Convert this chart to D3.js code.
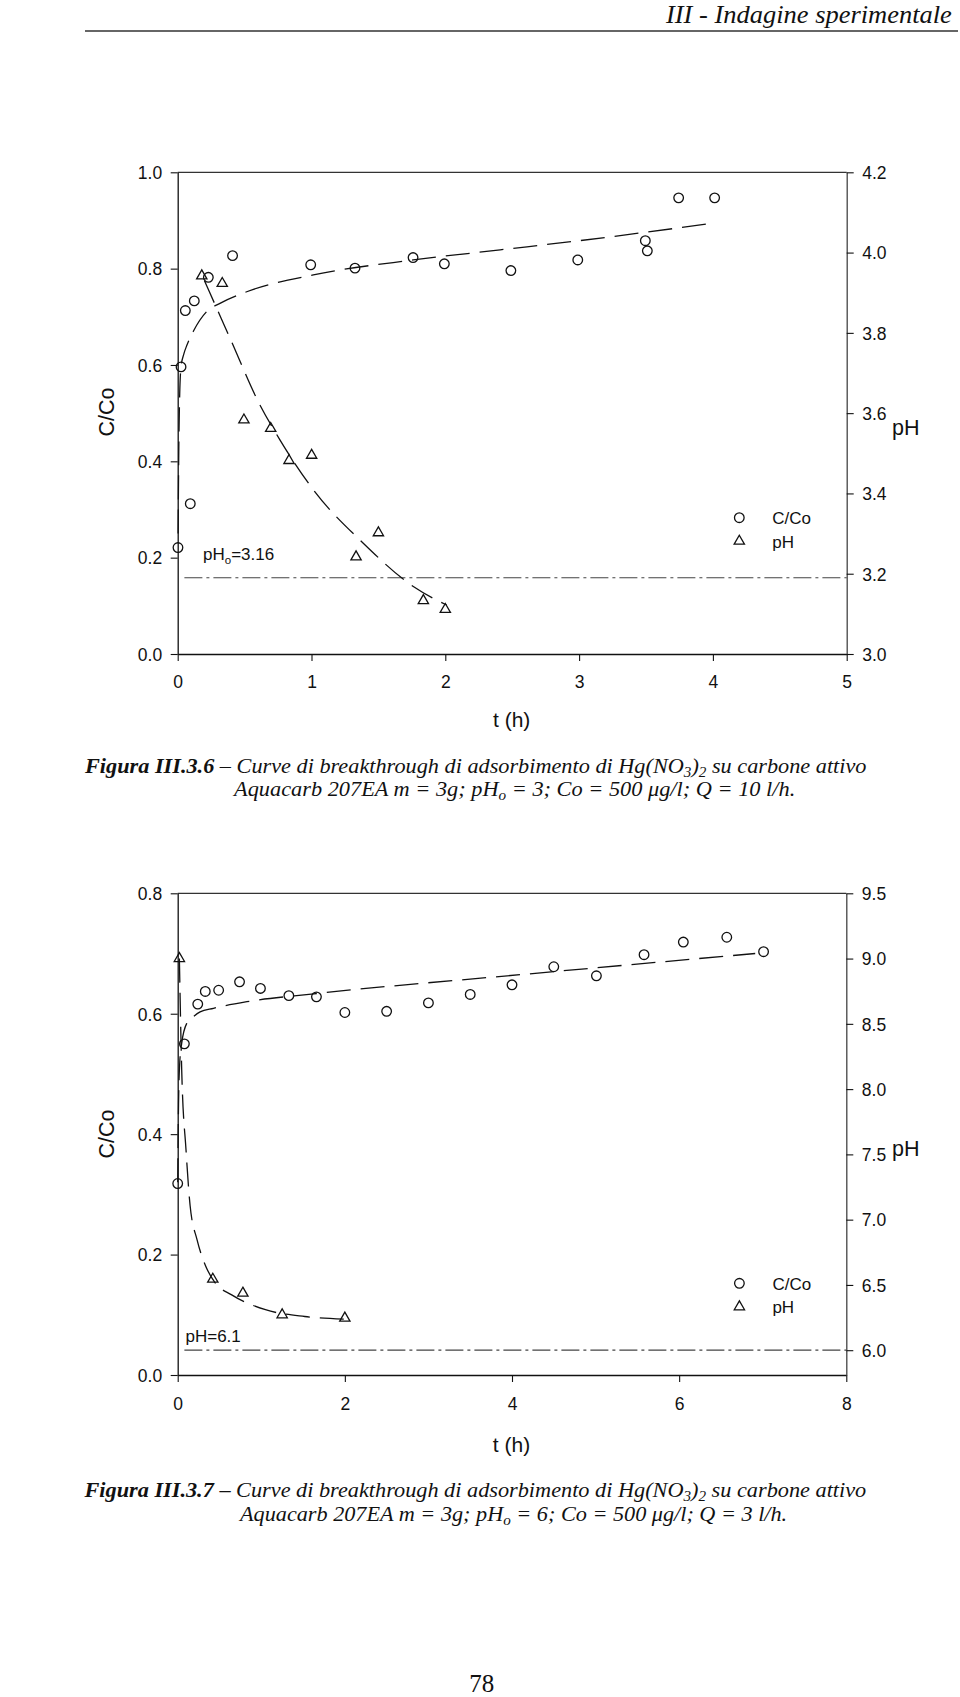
<!DOCTYPE html>
<html><head><meta charset="utf-8">
<script src="https://cdn.jsdelivr.net/npm/d3@7"></script>
<style>html,body{margin:0;padding:0;background:#fff;}svg{display:block;}</style>
</head><body>
<script>
// ---------- Figure III.3.6 data ----------
const fig1TimeC = [0.002, 0.025, 0.057, 0.094, 0.124, 0.229, 0.41, 0.994, 1.325, 1.759, 1.993, 2.49, 2.99, 3.495, 3.51, 3.744, 4.013];
const fig1CCo   = [0.221, 0.596, 0.713, 0.312, 0.733, 0.782, 0.827, 0.808, 0.801, 0.823, 0.810, 0.796, 0.818, 0.858, 0.837, 0.947, 0.947];
const fig1TimePH = [0.18, 0.333, 0.495, 0.695, 0.832, 1.001, 1.333, 1.5, 1.836, 2.0];
const fig1PH     = [3.942, 3.923, 3.583, 3.562, 3.482, 3.495, 3.242, 3.302, 3.133, 3.111];
const fig1FitCTime = [0.003, 0.008, 0.015, 0.025, 0.045, 0.07, 0.117, 0.217, 0.316, 0.516, 1.014, 1.76, 2.41, 3.0, 4.02];
const fig1FitC     = [0.25, 0.42, 0.54, 0.596, 0.622, 0.642, 0.670, 0.711, 0.728, 0.752, 0.787, 0.818, 0.839, 0.858, 0.895];
const fig1FitPHTime = [0.2, 0.236, 0.4, 0.6, 0.765, 1.014, 1.387, 1.761, 2.01];
const fig1FitPH     = [3.93, 3.903, 3.78, 3.63, 3.533, 3.409, 3.276, 3.168, 3.122];
const fig1RefPH = 3.19;
const fig1RefStart = 0.05;
const fig1RefLabel = ["pH", "o", "=3.16"];
const fig1XTicks = [0, 1, 2, 3, 4, 5];
const fig1LeftTicks = [0.0, 0.2, 0.4, 0.6, 0.8, 1.0];
const fig1RightTicks = [3.0, 3.2, 3.4, 3.6, 3.8, 4.0, 4.2];
const fig1XDomain = [0, 5], fig1LeftDomain = [0, 1], fig1RightDomain = [3.0, 4.2];

// ---------- Figure III.3.7 data ----------
const fig2TimeC = [0.0, 0.08, 0.24, 0.33, 0.49, 0.74, 0.99, 1.33, 1.66, 2.0, 2.5, 3.0, 3.5, 4.0, 4.5, 5.01, 5.58, 6.05, 6.57, 7.01];
const fig2CCo   = [0.318, 0.550, 0.616, 0.637, 0.639, 0.653, 0.642, 0.630, 0.628, 0.602, 0.604, 0.618, 0.632, 0.648, 0.678, 0.663, 0.698, 0.719, 0.727, 0.703];
const fig2TimePH = [0.02, 0.42, 0.78, 1.25, 2.0];
const fig2PH     = [9.0, 6.544, 6.437, 6.271, 6.246];
const fig2FitCTime = [0.0, 0.01, 0.025, 0.048, 0.108, 0.188, 0.268, 0.428, 0.828, 1.628, 4.11, 6.91];
const fig2FitC     = [0.32, 0.45, 0.52, 0.551, 0.584, 0.595, 0.603, 0.609, 0.62, 0.633, 0.665, 0.700];
const fig2FitPHTime = [0.02, 0.048, 0.10, 0.148, 0.232, 0.328, 0.448, 0.646, 1.05, 1.52, 2.0];
const fig2FitPH     = [9.0, 8.146, 7.53, 7.11, 6.845, 6.654, 6.516, 6.424, 6.31, 6.258, 6.238];
const fig2RefPH = 6.0;
const fig2RefStart = 0.08;
const fig2RefLabel = ["pH=6.1", "", ""];
const fig2XTicks = [0, 2, 4, 6, 8];
const fig2LeftTicks = [0.0, 0.2, 0.4, 0.6, 0.8];
const fig2RightTicks = [6.0, 6.5, 7.0, 7.5, 8.0, 8.5, 9.0, 9.5];
const fig2XDomain = [0, 8], fig2LeftDomain = [0, 0.8], fig2RightDomain = [5.81, 9.5];

const legendLabels = ["C/Co", "pH"];
const xTitle = "t (h)", leftTitle = "C/Co", rightTitle = "pH";

const W = 960, H = 1697;
const SANS = "Liberation Sans, Arial, sans-serif";
const SERIF = "Liberation Serif, Times New Roman, serif";
const INK = "#111";
const svg = d3.select("body").append("svg").attr("width", W).attr("height", H)
  .attr("font-family", SANS);

function drawChart(o) {
  const x = d3.scaleLinear().domain(o.xDomain).range([o.left, o.right]);
  const yL = d3.scaleLinear().domain(o.leftDomain).range([o.bottom, o.top]);
  const yR = d3.scaleLinear().domain(o.rightDomain).range([o.bottom, o.top]);
  const g = svg.append("g");

  g.append("line").attr("x1", o.left).attr("x2", o.right).attr("y1", o.top).attr("y2", o.top)
    .attr("stroke", "#333").attr("stroke-width", 1.2);

  const fmt1 = d3.format(".1f");
  const axB = g.append("g").attr("transform", `translate(0,${o.bottom})`)
    .call(d3.axisBottom(x).tickValues(o.xTicks).tickFormat(d3.format("d")).tickSize(7).tickSizeOuter(0));
  const axL = g.append("g").attr("transform", `translate(${o.left},0)`)
    .call(d3.axisLeft(yL).tickValues(o.leftTicks).tickFormat(fmt1).tickSize(7).tickSizeOuter(0));
  const axR = g.append("g").attr("transform", `translate(${o.right},0)`)
    .call(d3.axisRight(yR).tickValues(o.rightTicks).tickFormat(fmt1).tickSize(7).tickSizeOuter(0));
  [axB, axL, axR].forEach(a => {
    a.selectAll("path.domain").attr("stroke", INK).attr("stroke-width", 1.3);
    a.selectAll(".tick line").attr("stroke", INK).attr("stroke-width", 1.1);
    a.selectAll("text").attr("font-family", SANS).attr("font-size", 17.5).attr("fill", INK);
  });
  axR.selectAll("path.domain").attr("stroke", "#444");
  axB.selectAll("text").attr("dy", null).attr("y", o.xLabelBaseline - o.bottom);
  axL.selectAll("text").attr("x", -15.5).attr("dy", "0.36em");
  axR.selectAll("text").attr("x", 15.5).attr("dy", "0.36em");

  g.append("text").attr("x", (o.left + o.right) / 2 - 0.5).attr("y", o.xTitleY)
    .attr("text-anchor", "middle").attr("font-size", 21).attr("fill", INK).text(xTitle);
  g.append("text").attr("transform", `translate(${o.leftTitleX},${o.leftTitleY}) rotate(-90)`)
    .attr("text-anchor", "middle").attr("font-size", 21.5).attr("fill", INK).text(leftTitle);
  g.append("text").attr("x", o.rightTitleX).attr("y", o.rightTitleY)
    .attr("font-size", 21.5).attr("fill", INK).text(rightTitle);

  g.append("line").attr("x1", x(o.refStart)).attr("x2", o.right)
    .attr("y1", yR(o.refPH)).attr("y2", yR(o.refPH))
    .attr("stroke", "#444").attr("stroke-width", 1.2).attr("stroke-dasharray", "18,4,3,4");
  const rl = g.append("text").attr("x", o.refLabelX).attr("y", o.refLabelY)
    .attr("font-size", 17).attr("fill", INK);
  rl.append("tspan").text(o.refLabel[0]);
  if (o.refLabel[1]) {
    rl.append("tspan").attr("font-size", 11.5).attr("dy", 4).text(o.refLabel[1]);
    rl.append("tspan").attr("dy", -4).text(o.refLabel[2]);
  }

  const lineC = d3.line().x((d, i) => x(o.fitCTime[i])).y(d => yL(d)).curve(d3.curveMonotoneX);
  const linePH = d3.line().x((d, i) => x(o.fitPHTime[i])).y(d => yR(d)).curve(d3.curveMonotoneX);
  g.append("path").attr("d", lineC(o.fitC)).attr("fill", "none").attr("stroke", INK)
    .attr("stroke-width", 1.3).attr("stroke-dasharray", "24,10");
  g.append("path").attr("d", linePH(o.fitPH)).attr("fill", "none").attr("stroke", INK)
    .attr("stroke-width", 1.3).attr("stroke-dasharray", "24,10");

  const tri = d3.symbol().type(d3.symbolTriangle).size(46);
  g.selectAll(".c").data(o.cco).enter().append("circle")
    .attr("cx", (d, i) => x(o.timeC[i])).attr("cy", d => yL(d)).attr("r", 4.8)
    .attr("fill", "none").attr("stroke", INK).attr("stroke-width", 1.3);
  g.selectAll(".t").data(o.ph).enter().append("path")
    .attr("d", tri).attr("transform", (d, i) => `translate(${x(o.timePH[i])},${yR(d)})`)
    .attr("fill", "none").attr("stroke", INK).attr("stroke-width", 1.3);

  g.append("circle").attr("cx", o.legX).attr("cy", o.legY).attr("r", 4.8)
    .attr("fill", "none").attr("stroke", INK).attr("stroke-width", 1.3);
  g.append("path").attr("d", tri).attr("transform", `translate(${o.legX},${o.legY + 23.5})`)
    .attr("fill", "none").attr("stroke", INK).attr("stroke-width", 1.3);
  g.append("text").attr("x", o.legX + 33).attr("y", o.legY + 6.5).attr("font-size", 17).attr("fill", INK).text(legendLabels[0]);
  g.append("text").attr("x", o.legX + 33).attr("y", o.legY + 30).attr("font-size", 17).attr("fill", INK).text(legendLabels[1]);
}

drawChart({
  xDomain: fig1XDomain, leftDomain: fig1LeftDomain, rightDomain: fig1RightDomain,
  left: 177.7, right: 846.7, top: 172.3, bottom: 654,
  xTicks: fig1XTicks, leftTicks: fig1LeftTicks, rightTicks: fig1RightTicks,
  xLabelBaseline: 688, xTitleY: 727, leftTitleX: 113.5, leftTitleY: 412, rightTitleX: 892, rightTitleY: 435,
  refPH: fig1RefPH, refStart: fig1RefStart, refLabel: fig1RefLabel, refLabelX: 203, refLabelY: 559.5,
  fitCTime: fig1FitCTime, fitC: fig1FitC, fitPHTime: fig1FitPHTime, fitPH: fig1FitPH,
  timeC: fig1TimeC, cco: fig1CCo, timePH: fig1TimePH, ph: fig1PH,
  legX: 739.3, legY: 517.7
});

drawChart({
  xDomain: fig2XDomain, leftDomain: fig2LeftDomain, rightDomain: fig2RightDomain,
  left: 177.7, right: 846.3, top: 893.3, bottom: 1375,
  xTicks: fig2XTicks, leftTicks: fig2LeftTicks, rightTicks: fig2RightTicks,
  xLabelBaseline: 1409.5, xTitleY: 1452, leftTitleX: 113.5, leftTitleY: 1134, rightTitleX: 892, rightTitleY: 1156,
  refPH: fig2RefPH, refStart: fig2RefStart, refLabel: fig2RefLabel, refLabelX: 185.5, refLabelY: 1341.5,
  fitCTime: fig2FitCTime, fitC: fig2FitC, fitPHTime: fig2FitPHTime, fitPH: fig2FitPH,
  timeC: fig2TimeC, cco: fig2CCo, timePH: fig2TimePH, ph: fig2PH,
  legX: 739.4, legY: 1283.3
});

function fitText(x, y, targetW, parts, size, anchorEnd) {
  const t = svg.append("text").attr("font-family", SERIF).attr("font-size", size)
    .attr("font-style", "italic").attr("fill", INK);
  parts.forEach(p => {
    const s = t.append("tspan").text(p.t);
    if (p.b) s.attr("font-weight", "bold");
    if (p.sub) s.attr("font-size", size * 0.68).attr("dy", 4);
    if (p.up) s.attr("dy", -4);
  });
  const w = t.node().getBBox().width;
  const sx = targetW / w;
  const x0 = anchorEnd ? x - targetW : x;
  t.attr("transform", `translate(${x0},${y}) scale(${sx},1)`);
}

const headerText = "III - Indagine sperimentale";
fitText(953, 23, 287, [{t: headerText}], 25, true);
svg.append("line").attr("x1", 85).attr("x2", 958).attr("y1", 31).attr("y2", 31)
  .attr("stroke", "#333").attr("stroke-width", 1.3);

const cap1Line1 = [{t: "Figura III.3.6", b: true}, {t: " – Curve di breakthrough di adsorbimento di Hg(NO"}, {t: "3", sub: true}, {t: ")", up: true}, {t: "2", sub: true}, {t: " su carbone attivo", up: true}];
const cap1Line2 = [{t: "Aquacarb 207EA m = 3g; pH"}, {t: "o", sub: true}, {t: " = 3; Co = 500 μg/l; Q = 10 l/h.", up: true}];
const cap2Line1 = [{t: "Figura III.3.7", b: true}, {t: " – Curve di breakthrough di adsorbimento di Hg(NO"}, {t: "3", sub: true}, {t: ")", up: true}, {t: "2", sub: true}, {t: " su carbone attivo", up: true}];
const cap2Line2 = [{t: "Aquacarb 207EA m = 3g; pH"}, {t: "o", sub: true}, {t: " = 6; Co = 500 μg/l; Q = 3 l/h.", up: true}];

fitText(85, 772.5, 783, cap1Line1, 20, false);
fitText(234, 796, 564, cap1Line2, 20, false);
fitText(84.5, 1497.3, 783.5, cap2Line1, 20, false);
fitText(240, 1521, 550, cap2Line2, 20, false);

svg.append("text").attr("x", 481.7).attr("y", 1692).attr("text-anchor", "middle")
  .attr("font-family", SERIF).attr("font-size", 25).attr("fill", INK).text("78");
</script>
</body></html>
